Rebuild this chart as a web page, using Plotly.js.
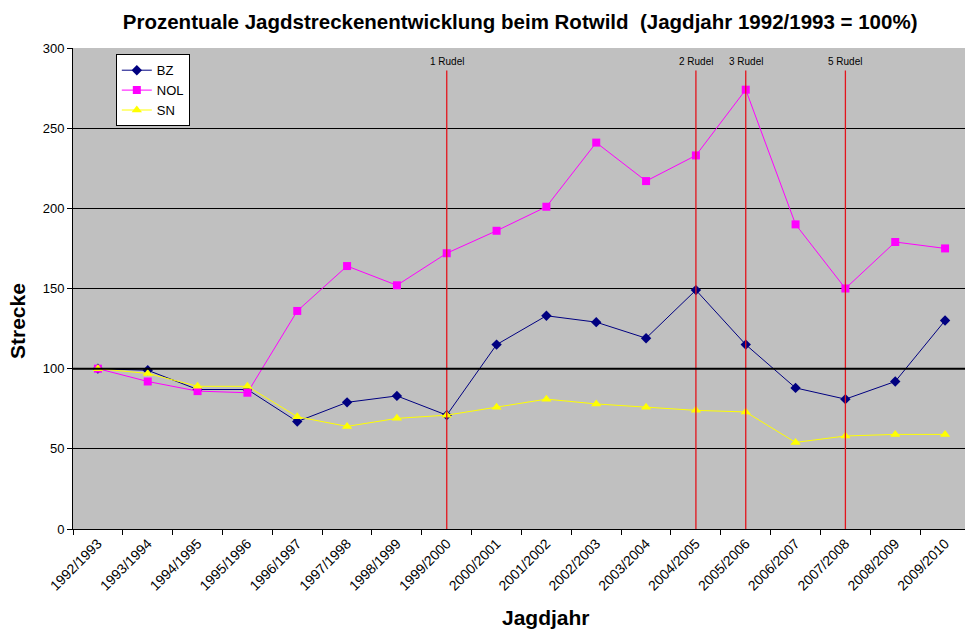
<!DOCTYPE html>
<html><head><meta charset="utf-8">
<script src="https://cdn.plot.ly/plotly-3.0.1.min.js"></script>
<style>html,body{margin:0;padding:0;background:#fff}#chart{width:965px;height:630px}</style>
</head><body><div id="chart"></div>
<script>
const years = ['1992/1993','1993/1994','1994/1995','1995/1996','1996/1997','1997/1998','1998/1999','1999/2000','2000/2001','2001/2002','2002/2003','2003/2004','2004/2005','2005/2006','2006/2007','2007/2008','2008/2009','2009/2010'];
const BZ  = [100, 99, 87, 87, 67, 79, 83, 71, 115, 133, 129, 119, 149, 115, 88, 81, 92, 130];
const NOL = [100, 92, 86, 85, 136, 164, 152, 172, 186, 201, 241, 217, 233, 274, 190, 150, 179, 175];
const SN  = [100, 97, 89, 89, 70, 64, 69, 71, 76, 81, 78, 76, 74, 73, 54, 58, 59, 59];
const rudelLabels = ['1 Rudel','2 Rudel','3 Rudel','5 Rudel'];
const rudelYears  = ['1999/2000','2004/2005','2005/2006','2007/2008'];
const rudelTop = 286;
const refValue = 100;

const font = 'Liberation Sans, Arial, sans-serif';
const traces = [
  {x: years, y: BZ, name: 'BZ', mode: 'lines+markers', type: 'scatter',
   line: {color: '#000080', width: 1}, marker: {symbol: 'diamond', size: 8, color: '#000080'}},
  {x: years, y: NOL, name: 'NOL', mode: 'lines+markers', type: 'scatter',
   line: {color: '#FF00FF', width: 1}, marker: {symbol: 'square', size: 8, color: '#FF00FF'}},
  {x: years, y: SN, name: 'SN', mode: 'lines+markers', type: 'scatter',
   line: {color: '#FFFF00', width: 1}, marker: {symbol: 'triangle-up', size: 9, color: '#FFFF00'}}
];
const shapes = rudelYears.map(yr => ({
  type: 'line', xref: 'x', yref: 'y', x0: years.indexOf(yr), x1: years.indexOf(yr), y0: 0, y1: rudelTop,
  line: {color: '#E3141C', width: 1.3}
}));
shapes.push({type: 'line', xref: 'paper', yref: 'y', x0: 0, x1: 1, y0: refValue, y1: refValue,
  line: {color: '#000000', width: 2}});
const annotations = rudelYears.map((yr, i) => ({
  x: years.indexOf(yr), y: rudelTop, xref: 'x', yref: 'y', text: rudelLabels[i], showarrow: false,
  yanchor: 'bottom', yshift: 1, font: {family: font, size: 10, color: '#000'}
}));
annotations.push({xref: 'paper', yref: 'paper', x: 0.53, y: -0.183, xanchor: 'center', yanchor: 'middle',
  text: '<b>Jagdjahr</b>', showarrow: false, font: {family: font, size: 21, color: '#000'}});
annotations.push({xref: 'paper', yref: 'paper', x: -0.063, y: 0.432, xanchor: 'center', yanchor: 'middle',
  textangle: -90, text: '<b>Strecke</b>', showarrow: false, font: {family: font, size: 21, color: '#000'}});

const layout = {
  width: 965, height: 630,
  margin: {l: 73, r: 0, t: 48, b: 101},
  paper_bgcolor: '#ffffff', plot_bgcolor: '#C0C0C0',
  title: {text: '<b>Prozentuale Jagdstreckenentwicklung beim Rotwild  (Jagdjahr 1992/1993 = 100%)</b>',
    font: {family: font, size: 20.5, color: '#000'}, x: 0.539, xanchor: 'center', y: 0.965, yanchor: 'middle'},
  xaxis: {type: 'category', range: [-0.5, 17.4], tickangle: -45, tickson: 'boundaries',
    ticks: 'outside', ticklen: 5, tickcolor: '#000', showline: true, linecolor: '#000', linewidth: 1,
    showgrid: false, tickfont: {family: font, size: 14, color: '#000'}},
  yaxis: {range: [0, 300], dtick: 50, ticks: 'outside', ticklen: 5, tickcolor: '#000',
    showline: true, linecolor: '#000', linewidth: 1, gridcolor: '#000', gridwidth: 1,
    zeroline: false, tickfont: {family: font, size: 13, color: '#000'}},
  legend: {x: 0.048, y: 0.987, xanchor: 'left', yanchor: 'top', bgcolor: '#fff',
    bordercolor: '#000', borderwidth: 1, font: {family: font, size: 13, color: '#000'},
    tracegroupgap: 0, itemwidth: 30},
  shapes: shapes, annotations: annotations, showlegend: true
};
Plotly.newPlot('chart', traces, layout, {displayModeBar: false});
</script></body></html>
